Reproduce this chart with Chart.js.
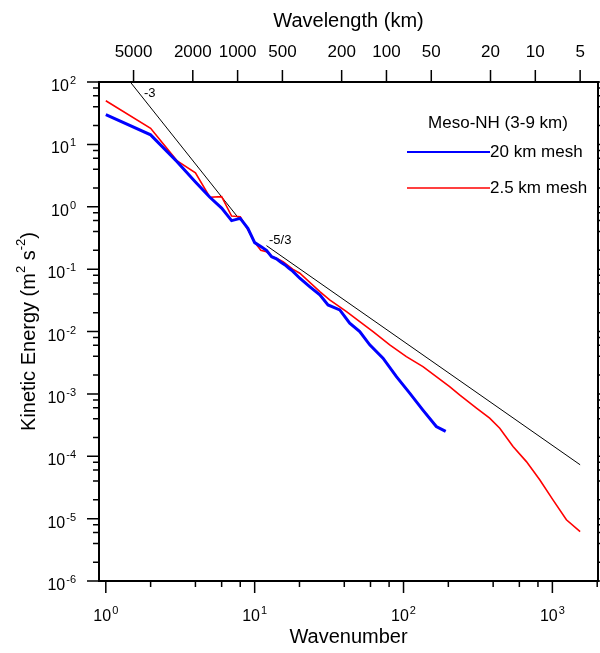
<!DOCTYPE html>
<html>
<head>
<meta charset="utf-8">
<script src="https://cdn.jsdelivr.net/npm/chart.js@4"></script>
<style>
    html, body { margin: 0; padding: 0; background: #fff; }
    canvas { display: block; }
</style>
</head>
<body>
<canvas id="spectrum" width="600" height="653"></canvas>
<script>
// Values
const coarseK = [1, 2, 3, 4, 5, 6, 7, 8, 9, 10, 11, 12, 13, 14, 15, 16, 17, 18, 20.1, 23.4, 27.4, 31.1, 37.3, 43.5, 50.8, 59.3, 72.8, 89.6, 110, 135, 166, 192];
const coarseE = [30, 14.2, 5.3, 2.5, 1.42, 0.95, 0.60, 0.65, 0.45, 0.266, 0.23, 0.2, 0.158, 0.146, 0.129, 0.117, 0.103, 0.093, 0.0714, 0.0525, 0.0386, 0.0267, 0.0222, 0.0136, 0.00996, 0.0061, 0.00373, 0.00189, 0.00103, 5.5e-4, 3.0e-4, 2.5e-4];

const fineK = [1, 2, 3, 4, 5, 6, 7, 8, 9, 10, 11, 12, 13, 14, 15.5, 18, 20.1, 27.4, 31.9, 41.4, 50.8, 62.4, 80.8, 104.5, 135, 166, 204, 238, 309, 379, 443, 544, 669, 822, 1009, 1242, 1536];
const fineE = [50, 18.1, 5.5, 3.5, 1.42, 1.45, 0.71, 0.69, 0.43, 0.27, 0.20, 0.19, 0.16, 0.15, 0.132, 0.10, 0.0859, 0.0436, 0.0321, 0.0208, 0.0144, 0.00996, 0.0061, 0.00396, 0.00274, 0.00189, 0.00131, 9.6e-4, 5.9e-4, 4.08e-4, 2.82e-4, 1.43e-4, 8.2e-5, 4.19e-5, 2.0e-5, 9.6e-6, 6.2e-6];

// reference slopes
const slope3K = [1.46, 8];
const slope3E = [100, 0.608];
const slope53K = [12, 1536];
const slope53E = [0.238, 7.3e-5];

// axes
const xMin = 0.9, xMax = 2025;
const yMin = 1e-6, yMax = 1e2;
const xDecades = [0, 1, 2, 3];
const yDecades = [2, 1, 0, -1, -2, -3, -4, -5, -6];
const minorSteps = [2, 4, 6, 8];
const domainKm = 7680;
const wavelengthTicks = [5000, 2000, 1000, 500, 200, 100, 50, 20, 10, 5];

const FONT = '"Liberation Sans", Arial, Helvetica, sans-serif';

function pts(xs, ys) {
    return xs.map((v, i) => ({ x: v, y: ys[i] }));
}

// "10" with a raised exponent; align = 'center' or 'right'
function drawPow(ctx, exp, px, py, align) {
    ctx.font = `16px ${FONT}`;
    const wb = ctx.measureText('10').width;
    ctx.font = `11px ${FONT}`;
    const we = ctx.measureText(exp).width;
    const total = wb + we + 1;
    const x0 = align === 'right' ? px - total : px - total / 2;
    ctx.textAlign = 'left';
    ctx.textBaseline = 'alphabetic';
    ctx.font = `16px ${FONT}`;
    ctx.fillText('10', x0, py);
    ctx.font = `11px ${FONT}`;
    ctx.fillText(exp, x0 + wb + 1, py - 7);
}

const frame = {
    id: 'frame',
    afterDraw(chart) {
        const { ctx, chartArea: a, scales: { x, y } } = chart;
        ctx.save();
        ctx.strokeStyle = '#000';
        ctx.fillStyle = '#000';

        // box
        ctx.lineWidth = 2;
        ctx.strokeRect(a.left, a.top, a.right - a.left, a.bottom - a.top);

        ctx.lineWidth = 1.5;
        ctx.beginPath();
        // bottom ticks
        xDecades.forEach(d => {
            const base = Math.pow(10, d);
            const px = x.getPixelForValue(base);
            ctx.moveTo(px, a.bottom); ctx.lineTo(px, a.bottom + 12);
            minorSteps.forEach(m => {
                const v = m * base;
                if (v > xMax) return;
                const mx = x.getPixelForValue(v);
                ctx.moveTo(mx, a.bottom); ctx.lineTo(mx, a.bottom + 6);
            });
        });
        // left / right ticks
        yDecades.forEach(d => {
            const base = Math.pow(10, d);
            const py = y.getPixelForValue(base);
            ctx.moveTo(a.left, py); ctx.lineTo(a.left - 12, py);
            ctx.moveTo(a.right, py); ctx.lineTo(a.right + 12, py);
            if (d === 2) return;
            minorSteps.forEach(m => {
                const my = y.getPixelForValue(m * base);
                ctx.moveTo(a.left, my); ctx.lineTo(a.left - 6, my);
                ctx.moveTo(a.right, my); ctx.lineTo(a.right + 6, my);
            });
        });
        // top wavelength ticks
        wavelengthTicks.forEach(w => {
            const px = x.getPixelForValue(domainKm / w);
            ctx.moveTo(px, a.top); ctx.lineTo(px, a.top - 12);
        });
        ctx.stroke();

        // tick labels
        xDecades.forEach(d => {
            drawPow(ctx, String(d), x.getPixelForValue(Math.pow(10, d)), a.bottom + 40, 'center');
        });
        yDecades.forEach(d => {
            drawPow(ctx, String(d), a.left - 23, y.getPixelForValue(Math.pow(10, d)) + 9, 'right');
        });
        ctx.font = `17px ${FONT}`;
        ctx.textAlign = 'center';
        ctx.textBaseline = 'middle';
        wavelengthTicks.forEach(w => {
            ctx.fillText(String(w), x.getPixelForValue(domainKm / w), a.top - 30);
        });

        // axis titles
        const cx = (a.left + a.right) / 2;
        ctx.font = `20px ${FONT}`;
        ctx.fillText('Wavelength (km)', cx, 21);
        ctx.fillText('Wavenumber', cx, 637);

        // rotated y title with superscripts
        ctx.save();
        ctx.translate(29, (a.top + a.bottom) / 2);
        ctx.rotate(-Math.PI / 2);
        const parts = [['Kinetic Energy (m', 20, 0], ['2', 13, -8], [' s', 20, 0], ['-2', 13, -8], [')', 20, 0]];
        let total = 0;
        parts.forEach(p => { ctx.font = `${p[1]}px ${FONT}`; total += ctx.measureText(p[0]).width; });
        let tx = -total / 2;
        ctx.textAlign = 'left';
        ctx.textBaseline = 'middle';
        parts.forEach(p => {
            ctx.font = `${p[1]}px ${FONT}`;
            ctx.fillText(p[0], tx, p[2]);
            tx += ctx.measureText(p[0]).width;
        });
        ctx.restore();

        // slope labels
        ctx.font = `13px ${FONT}`;
        ctx.textAlign = 'left';
        ctx.fillText('-3', 144, 93);
        ctx.fillText('-5/3', 269, 240);

        // legend
        ctx.font = `17px ${FONT}`;
        ctx.textAlign = 'center';
        ctx.fillText('Meso-NH (3-9 km)', 498, 123);
        ctx.lineWidth = 2;
        ctx.strokeStyle = '#0000ff';
        ctx.beginPath(); ctx.moveTo(407, 152); ctx.lineTo(490, 152); ctx.stroke();
        ctx.strokeStyle = '#ff0000';
        ctx.lineWidth = 1.5;
        ctx.beginPath(); ctx.moveTo(407, 188); ctx.lineTo(490, 188); ctx.stroke();
        ctx.textAlign = 'left';
        ctx.fillText('20 km mesh', 490, 152);
        ctx.fillText('2.5 km mesh', 490, 188);

        ctx.restore();
    }
};

new Chart(document.getElementById('spectrum'), {
    type: 'line',
    data: {
        datasets: [
            { label: '20 km mesh', data: pts(coarseK, coarseE), borderColor: '#0000ff', borderWidth: 3, order: 0 },
            { label: '2.5 km mesh', data: pts(fineK, fineE), borderColor: '#ff0000', borderWidth: 1.6, order: 1 },
            { label: '-3', data: pts(slope3K, slope3E), borderColor: '#000', borderWidth: 1, order: 2 },
            { label: '-5/3', data: pts(slope53K, slope53E), borderColor: '#000', borderWidth: 1, order: 2 }
        ]
    },
    options: {
        responsive: false,
        animation: false,
        layout: { padding: { left: 99, right: 2, top: 82, bottom: 72 } },
        elements: { point: { radius: 0 }, line: { tension: 0, fill: false } },
        plugins: { legend: { display: false }, tooltip: { enabled: false } },
        scales: {
            x: { type: 'logarithmic', min: xMin, max: xMax, display: false },
            y: { type: 'logarithmic', min: yMin, max: yMax, display: false }
        }
    },
    plugins: [frame]
});
</script>
</body>
</html>
